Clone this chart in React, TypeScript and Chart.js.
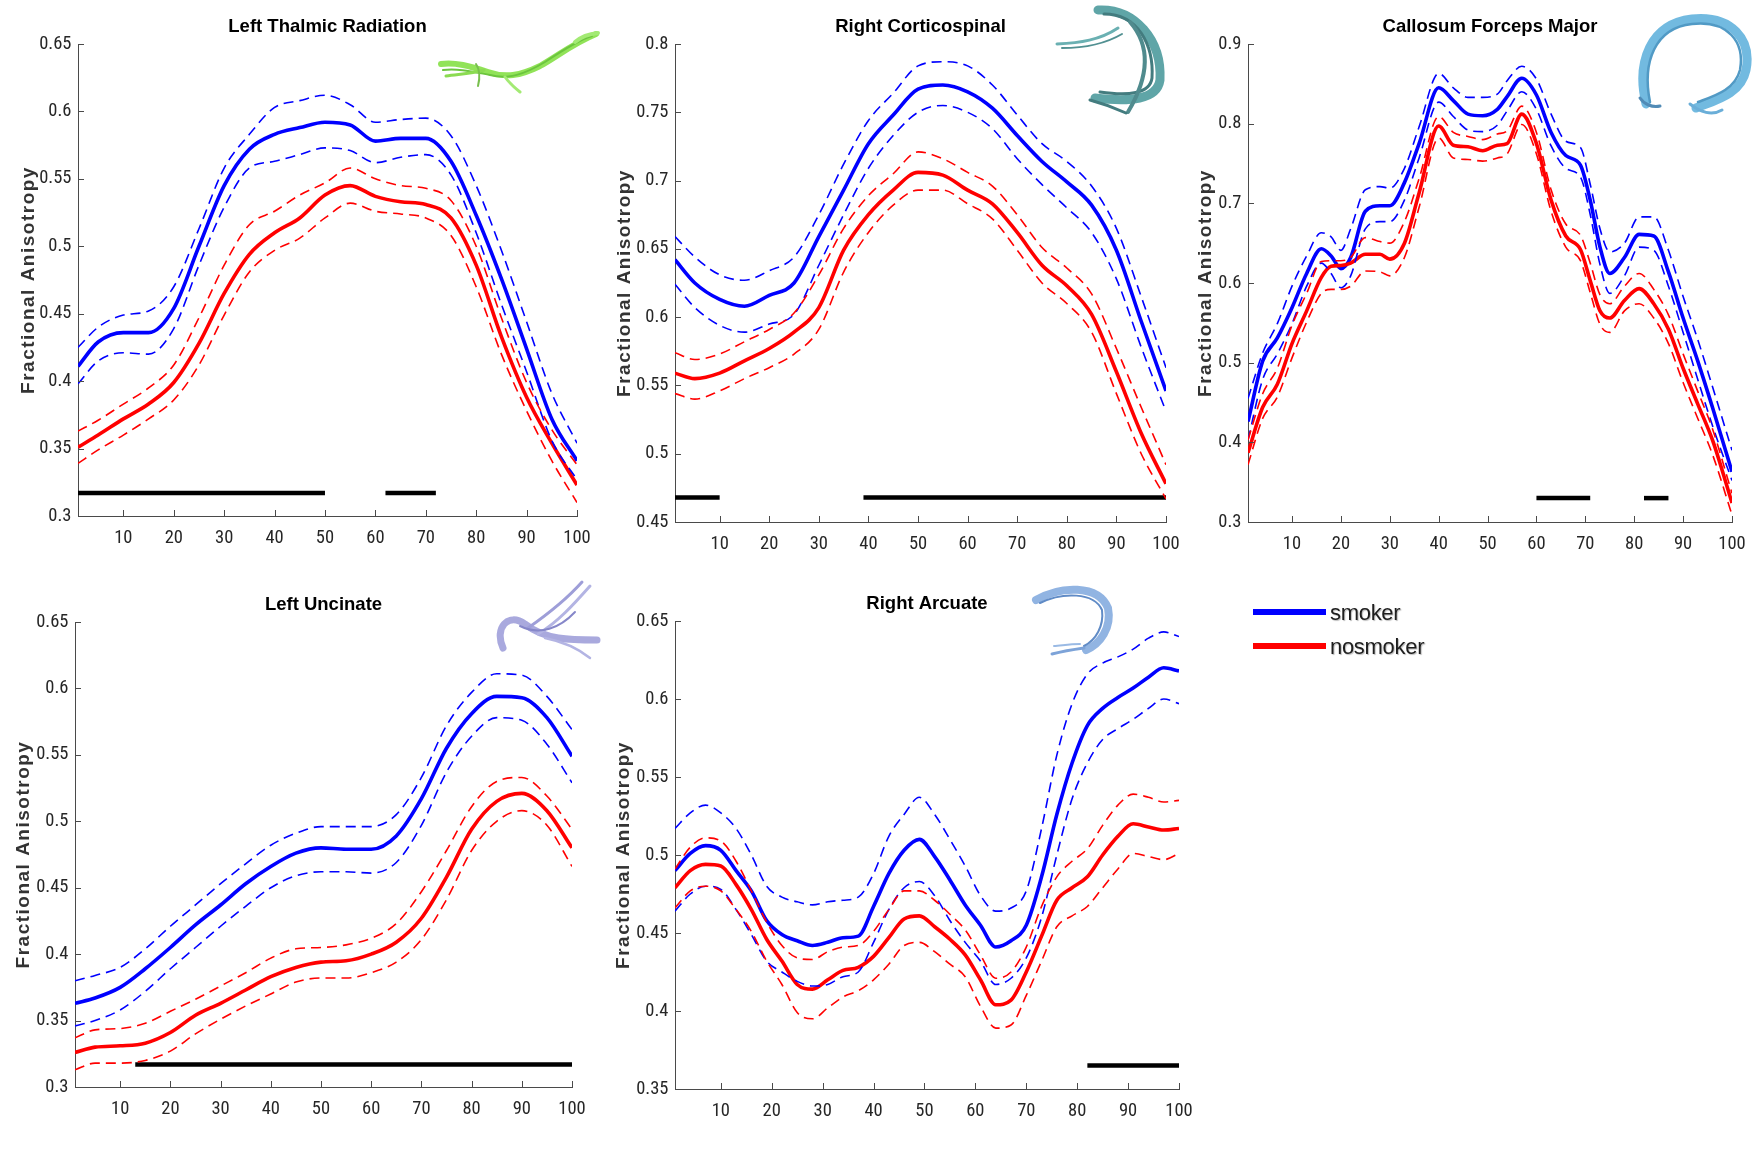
import React, { useEffect, useRef } from 'react';
import { Chart, registerables } from 'chart.js';

Chart.register(...registerables);

// ---------------- DATA ----------------
const xTicks = [10, 20, 30, 40, 50, 60, 70, 80, 90, 100];

// Left Thalmic Radiation
const ltrX = [1, 5, 10, 15, 20, 25, 30, 35, 40, 45, 50, 55, 60, 65, 70, 75, 80, 85, 90, 95, 100];
const ltrSmoker = [0.411, 0.429, 0.436, 0.436, 0.454, 0.500, 0.545, 0.572, 0.583, 0.588, 0.592, 0.590, 0.578, 0.580, 0.580, 0.563, 0.523, 0.476, 0.424, 0.372, 0.341];
const ltrSmokerHi = [0.425, 0.440, 0.449, 0.452, 0.470, 0.513, 0.558, 0.583, 0.603, 0.608, 0.612, 0.605, 0.592, 0.594, 0.595, 0.582, 0.545, 0.497, 0.444, 0.391, 0.354];
const ltrSmokerLo = [0.398, 0.415, 0.421, 0.420, 0.439, 0.486, 0.529, 0.558, 0.563, 0.568, 0.573, 0.571, 0.562, 0.566, 0.568, 0.553, 0.510, 0.457, 0.407, 0.356, 0.327];
const ltrNon = [0.351, 0.360, 0.372, 0.383, 0.399, 0.428, 0.465, 0.494, 0.510, 0.521, 0.538, 0.545, 0.537, 0.533, 0.531, 0.521, 0.486, 0.433, 0.388, 0.354, 0.323];
const ltrNonHi = [0.363, 0.371, 0.383, 0.395, 0.412, 0.447, 0.486, 0.516, 0.526, 0.538, 0.547, 0.558, 0.550, 0.545, 0.543, 0.534, 0.500, 0.447, 0.399, 0.364, 0.338];
const ltrNonLo = [0.339, 0.349, 0.360, 0.372, 0.386, 0.412, 0.449, 0.481, 0.497, 0.506, 0.521, 0.532, 0.526, 0.524, 0.521, 0.508, 0.470, 0.420, 0.378, 0.341, 0.310];
const ltrSig = [[1, 50], [62, 72]];
const ltrSigY = 0.317;
const ltrYTicks = [0.3, 0.35, 0.4, 0.45, 0.5, 0.55, 0.6, 0.65];

// Right Corticospinal
const rcsX = [1, 5, 10, 15, 20, 25, 30, 35, 40, 45, 50, 55, 60, 65, 70, 75, 80, 85, 90, 95, 100];
const rcsSmoker = [0.642, 0.625, 0.613, 0.608, 0.616, 0.625, 0.659, 0.693, 0.727, 0.748, 0.767, 0.770, 0.765, 0.753, 0.733, 0.714, 0.699, 0.682, 0.649, 0.597, 0.546];
const rcsSmokerHi = [0.659, 0.644, 0.631, 0.627, 0.634, 0.644, 0.675, 0.712, 0.744, 0.764, 0.784, 0.787, 0.784, 0.770, 0.748, 0.727, 0.714, 0.696, 0.665, 0.615, 0.563];
const rcsSmokerLo = [0.624, 0.607, 0.594, 0.589, 0.595, 0.602, 0.638, 0.675, 0.709, 0.733, 0.750, 0.755, 0.750, 0.738, 0.716, 0.697, 0.680, 0.662, 0.628, 0.578, 0.531];
const rcsNon = [0.559, 0.555, 0.559, 0.568, 0.577, 0.589, 0.607, 0.649, 0.675, 0.693, 0.706, 0.704, 0.693, 0.683, 0.662, 0.638, 0.623, 0.602, 0.560, 0.515, 0.478];
const rcsNonHi = [0.574, 0.569, 0.573, 0.582, 0.591, 0.603, 0.631, 0.665, 0.689, 0.705, 0.721, 0.716, 0.706, 0.696, 0.675, 0.651, 0.636, 0.617, 0.577, 0.534, 0.492];
const rcsNonLo = [0.544, 0.540, 0.546, 0.555, 0.563, 0.573, 0.591, 0.633, 0.662, 0.682, 0.693, 0.693, 0.683, 0.672, 0.649, 0.625, 0.610, 0.589, 0.544, 0.500, 0.467];
const rcsSig = [[1, 10], [39, 100]];
const rcsSigY = 0.468;
const rcsYTicks = [0.45, 0.5, 0.55, 0.6, 0.65, 0.7, 0.75, 0.8];

// Callosum Forceps Major
const cfmX = [1, 4, 7, 10, 13, 16, 18, 20, 22, 25, 28, 30, 33, 36, 40, 43, 46, 49, 52, 54, 57, 60, 63, 66, 69, 71, 73, 75, 78, 81, 84, 87, 90, 93, 96, 100];
const cfmSmoker = [0.426, 0.502, 0.531, 0.569, 0.612, 0.643, 0.634, 0.618, 0.632, 0.690, 0.697, 0.697, 0.726, 0.775, 0.845, 0.829, 0.812, 0.810, 0.818, 0.834, 0.857, 0.836, 0.789, 0.760, 0.748, 0.704, 0.645, 0.612, 0.632, 0.661, 0.659, 0.614, 0.556, 0.502, 0.444, 0.363];
const cfmSmokerHi = [0.455, 0.512, 0.549, 0.596, 0.634, 0.663, 0.658, 0.641, 0.668, 0.717, 0.721, 0.719, 0.744, 0.796, 0.863, 0.845, 0.833, 0.833, 0.837, 0.854, 0.872, 0.856, 0.812, 0.778, 0.770, 0.724, 0.668, 0.639, 0.650, 0.683, 0.683, 0.641, 0.583, 0.529, 0.470, 0.390];
const cfmSmokerLo = [0.403, 0.479, 0.511, 0.549, 0.596, 0.625, 0.612, 0.594, 0.609, 0.668, 0.677, 0.677, 0.704, 0.757, 0.827, 0.809, 0.792, 0.790, 0.798, 0.816, 0.840, 0.818, 0.772, 0.744, 0.733, 0.686, 0.623, 0.587, 0.609, 0.645, 0.641, 0.596, 0.538, 0.479, 0.421, 0.352];
const cfmNon = [0.387, 0.444, 0.473, 0.524, 0.565, 0.607, 0.621, 0.622, 0.625, 0.636, 0.636, 0.630, 0.650, 0.713, 0.797, 0.773, 0.771, 0.766, 0.773, 0.775, 0.812, 0.775, 0.704, 0.659, 0.642, 0.603, 0.565, 0.556, 0.578, 0.593, 0.574, 0.542, 0.493, 0.448, 0.403, 0.324];
const cfmNonHi = [0.403, 0.461, 0.493, 0.547, 0.587, 0.627, 0.628, 0.628, 0.632, 0.657, 0.652, 0.650, 0.677, 0.731, 0.809, 0.789, 0.784, 0.780, 0.787, 0.791, 0.822, 0.789, 0.717, 0.674, 0.660, 0.625, 0.585, 0.574, 0.596, 0.612, 0.592, 0.560, 0.511, 0.464, 0.417, 0.336];
const cfmNonLo = [0.372, 0.430, 0.457, 0.506, 0.551, 0.587, 0.592, 0.592, 0.596, 0.615, 0.614, 0.609, 0.632, 0.695, 0.782, 0.757, 0.755, 0.753, 0.757, 0.762, 0.799, 0.762, 0.690, 0.645, 0.628, 0.588, 0.548, 0.538, 0.565, 0.574, 0.556, 0.524, 0.475, 0.430, 0.385, 0.309];
const cfmSig = [[60, 71], [82, 87]];
const cfmSigY = 0.33;
const cfmYTicks = [0.3, 0.4, 0.5, 0.6, 0.7, 0.8, 0.9];

// Left Uncinate
const luX = [1, 5, 10, 15, 20, 25, 30, 35, 40, 45, 50, 55, 60, 65, 70, 75, 80, 85, 90, 95, 100];
const luSmoker = [0.363, 0.367, 0.375, 0.389, 0.405, 0.422, 0.437, 0.453, 0.466, 0.476, 0.480, 0.479, 0.479, 0.489, 0.517, 0.555, 0.581, 0.594, 0.593, 0.578, 0.549];
const luSmokerHi = [0.380, 0.384, 0.390, 0.404, 0.421, 0.437, 0.453, 0.468, 0.482, 0.491, 0.496, 0.496, 0.496, 0.505, 0.533, 0.572, 0.597, 0.611, 0.610, 0.594, 0.569];
const luSmokerLo = [0.346, 0.350, 0.358, 0.372, 0.389, 0.405, 0.421, 0.436, 0.450, 0.459, 0.462, 0.462, 0.461, 0.469, 0.497, 0.537, 0.564, 0.578, 0.576, 0.558, 0.529];
const luNon = [0.326, 0.330, 0.331, 0.333, 0.341, 0.354, 0.363, 0.373, 0.383, 0.390, 0.394, 0.395, 0.400, 0.409, 0.427, 0.458, 0.494, 0.515, 0.521, 0.508, 0.480];
const luNonHi = [0.337, 0.343, 0.344, 0.348, 0.357, 0.366, 0.376, 0.386, 0.397, 0.404, 0.405, 0.407, 0.412, 0.423, 0.447, 0.478, 0.511, 0.530, 0.533, 0.519, 0.494];
const luNonLo = [0.313, 0.318, 0.318, 0.320, 0.327, 0.340, 0.351, 0.361, 0.370, 0.379, 0.382, 0.382, 0.386, 0.394, 0.411, 0.441, 0.478, 0.500, 0.508, 0.497, 0.466];
const luSig = [[13, 100]];
const luSigY = 0.317;
const luYTicks = [0.3, 0.35, 0.4, 0.45, 0.5, 0.55, 0.6, 0.65];

// Right Arcuate
const raX = [1, 4, 7, 10, 13, 16, 19, 22, 25, 28, 31, 34, 37, 40, 43, 46, 49, 52, 55, 58, 61, 64, 67, 70, 73, 76, 79, 82, 85, 88, 91, 94, 97, 100];
const raSmoker = [0.490, 0.501, 0.506, 0.503, 0.490, 0.477, 0.458, 0.449, 0.445, 0.442, 0.444, 0.447, 0.448, 0.467, 0.488, 0.503, 0.510, 0.499, 0.484, 0.468, 0.455, 0.441, 0.445, 0.455, 0.486, 0.526, 0.559, 0.583, 0.594, 0.601, 0.607, 0.614, 0.620, 0.618];
const raSmokerHi = [0.517, 0.527, 0.532, 0.527, 0.517, 0.500, 0.480, 0.473, 0.470, 0.468, 0.470, 0.471, 0.473, 0.488, 0.512, 0.526, 0.537, 0.526, 0.510, 0.493, 0.474, 0.464, 0.466, 0.477, 0.517, 0.564, 0.597, 0.616, 0.623, 0.627, 0.632, 0.639, 0.643, 0.640];
const raSmokerLo = [0.464, 0.475, 0.480, 0.478, 0.465, 0.449, 0.432, 0.425, 0.419, 0.416, 0.417, 0.422, 0.425, 0.444, 0.465, 0.479, 0.483, 0.474, 0.458, 0.444, 0.432, 0.417, 0.421, 0.434, 0.460, 0.500, 0.536, 0.559, 0.574, 0.581, 0.587, 0.594, 0.600, 0.597];
const raNon = [0.479, 0.490, 0.494, 0.493, 0.481, 0.465, 0.446, 0.432, 0.417, 0.414, 0.420, 0.426, 0.428, 0.435, 0.447, 0.459, 0.461, 0.454, 0.446, 0.436, 0.420, 0.404, 0.407, 0.425, 0.448, 0.471, 0.479, 0.486, 0.500, 0.512, 0.520, 0.518, 0.516, 0.517];
const raNonHi = [0.491, 0.505, 0.511, 0.509, 0.496, 0.477, 0.457, 0.442, 0.434, 0.433, 0.438, 0.441, 0.442, 0.451, 0.465, 0.477, 0.477, 0.471, 0.462, 0.452, 0.436, 0.421, 0.425, 0.441, 0.467, 0.486, 0.496, 0.504, 0.519, 0.532, 0.539, 0.537, 0.534, 0.535];
const raNonLo = [0.466, 0.477, 0.480, 0.477, 0.465, 0.451, 0.432, 0.417, 0.399, 0.395, 0.402, 0.409, 0.413, 0.420, 0.430, 0.442, 0.444, 0.438, 0.430, 0.422, 0.403, 0.389, 0.391, 0.410, 0.432, 0.454, 0.461, 0.467, 0.479, 0.491, 0.501, 0.499, 0.497, 0.501];
const raSig = [[82, 100]];
const raSigY = 0.365;
const raYTicks = [0.35, 0.4, 0.45, 0.5, 0.55, 0.6, 0.65];

const legendLabels = ['smoker', 'nosmoker'];
const yAxisTitle = 'Fractional Anisotropy';

// ---------------- STYLE ----------------
const BLUE = '#0000ff';
const RED = '#ff0000';
const AXIS = '#4a4a4a';
const TICK_TEXT = '#262626';
const TICK_FONT = '"Liberation Sans Narrow", "Arial Narrow", "Roboto Condensed", sans-serif';
const BOLD_FONT = '"Liberation Sans", Arial, Helvetica, sans-serif';

const PAD_L = 80;
const PAD_T = 46;
const PAD_R = 22;
const PAD_B = 46;

type PanelData = {
  title: string;
  x: number[];
  smoker: number[]; smokerHi: number[]; smokerLo: number[];
  non: number[]; nonHi: number[]; nonLo: number[];
  sig: number[][]; sigY: number;
  yTicks: number[];
};

const panels: PanelData[] = [
  { title: 'Left Thalmic Radiation', x: ltrX, smoker: ltrSmoker, smokerHi: ltrSmokerHi, smokerLo: ltrSmokerLo, non: ltrNon, nonHi: ltrNonHi, nonLo: ltrNonLo, sig: ltrSig, sigY: ltrSigY, yTicks: ltrYTicks },
  { title: 'Right Corticospinal', x: rcsX, smoker: rcsSmoker, smokerHi: rcsSmokerHi, smokerLo: rcsSmokerLo, non: rcsNon, nonHi: rcsNonHi, nonLo: rcsNonLo, sig: rcsSig, sigY: rcsSigY, yTicks: rcsYTicks },
  { title: 'Callosum Forceps Major', x: cfmX, smoker: cfmSmoker, smokerHi: cfmSmokerHi, smokerLo: cfmSmokerLo, non: cfmNon, nonHi: cfmNonHi, nonLo: cfmNonLo, sig: cfmSig, sigY: cfmSigY, yTicks: cfmYTicks },
  { title: 'Left Uncinate', x: luX, smoker: luSmoker, smokerHi: luSmokerHi, smokerLo: luSmokerLo, non: luNon, nonHi: luNonHi, nonLo: luNonLo, sig: luSig, sigY: luSigY, yTicks: luYTicks },
  { title: 'Right Arcuate', x: raX, smoker: raSmoker, smokerHi: raSmokerHi, smokerLo: raSmokerLo, non: raNon, nonHi: raNonHi, nonLo: raNonLo, sig: raSig, sigY: raSigY, yTicks: raYTicks },
];

// plot-area boxes on the page (left, right, top, bottom) and label offset
const boxes = [
  { L: 78.3, R: 577, T: 43.6, B: 515.4, labelGap: 49.5 },
  { L: 674.6, R: 1165.5, T: 43.6, B: 521.4, labelGap: 50.5 },
  { L: 1248, R: 1732, T: 43.6, B: 521.4, labelGap: 42 },
  { L: 74.6, R: 571.4, T: 621.7, B: 1086.2, labelGap: 51 },
  { L: 674.9, R: 1179.3, T: 620.6, B: 1088.8, labelGap: 51 },
];

const fmt = (v: number) => String(parseFloat(v.toFixed(2)));

const decorPlugin = {
  id: 'decor',
  afterDraw(chart: any, _args: any, opts: any) {
    const { ctx, chartArea: ca, scales } = chart;
    const xs = scales.x;
    const ys = scales.y;
    ctx.save();
    ctx.strokeStyle = AXIS;
    ctx.lineWidth = 1;
    xs.ticks.forEach((t: any) => {
      const px = Math.round(xs.getPixelForValue(t.value)) + 0.5;
      ctx.beginPath();
      ctx.moveTo(px, ca.bottom);
      ctx.lineTo(px, ca.bottom - 6);
      ctx.stroke();
    });
    ys.ticks.forEach((t: any) => {
      const py = Math.round(ys.getPixelForValue(t.value)) + 0.5;
      ctx.beginPath();
      ctx.moveTo(ca.left, py);
      ctx.lineTo(ca.left + 6, py);
      ctx.stroke();
    });
    ctx.fillStyle = '#000';
    ctx.font = `bold 18.5px ${BOLD_FONT}`;
    ctx.textAlign = 'center';
    ctx.textBaseline = 'middle';
    ctx.fillText(opts.title, (ca.left + ca.right) / 2, ca.top - 17);
    ctx.translate(ca.left - opts.labelGap, (ca.top + ca.bottom) / 2);
    ctx.rotate(-Math.PI / 2);
    ctx.fillStyle = '#333';
    ctx.font = `bold 19px ${BOLD_FONT}`;
    try { (ctx as any).letterSpacing = '1.5px'; } catch (e) { /* ignore */ }
    ctx.fillText(yAxisTitle, 0, 0);
    ctx.restore();
  },
};

function lineSet(xs: number[], ys: number[], color: string, dashed: boolean) {
  return {
    data: xs.map((x, i) => ({ x, y: ys[i] })),
    borderColor: color,
    borderWidth: dashed ? 1.6 : 3.6,
    borderDash: dashed ? [10, 6] : [],
    pointRadius: 0,
    fill: false,
    cubicInterpolationMode: 'monotone' as const,
  };
}

function Panel({ p, box }: { p: PanelData; box: typeof boxes[number] }) {
  const ref = useRef<HTMLCanvasElement>(null);
  const w = Math.round(box.R - box.L + PAD_L + PAD_R);
  const h = Math.round(box.B - box.T + PAD_T + PAD_B);
  useEffect(() => {
    if (!ref.current) return;
    const datasets: any[] = [
      lineSet(p.x, p.nonHi, RED, true),
      lineSet(p.x, p.nonLo, RED, true),
      lineSet(p.x, p.smokerHi, BLUE, true),
      lineSet(p.x, p.smokerLo, BLUE, true),
      lineSet(p.x, p.non, RED, false),
      lineSet(p.x, p.smoker, BLUE, false),
      ...p.sig.map(([a, b]) => ({
        data: [{ x: a, y: p.sigY }, { x: b, y: p.sigY }],
        borderColor: '#000',
        borderWidth: 4.5,
        borderCapStyle: 'butt',
        pointRadius: 0,
        fill: false,
      })),
    ];
    const yMin = p.yTicks[0];
    const yMax = p.yTicks[p.yTicks.length - 1];
    const chart = new Chart(ref.current, {
      type: 'line',
      data: { datasets },
      options: {
        responsive: false,
        animation: false,
        events: [],
        layout: { padding: { left: 0, top: PAD_T, right: PAD_R, bottom: 0 } },
        plugins: {
          legend: { display: false },
          tooltip: { enabled: false },
          title: { display: false },
          decor: { title: p.title, labelGap: box.labelGap },
        } as any,
        scales: {
          x: {
            type: 'linear',
            min: 1,
            max: 100,
            afterBuildTicks: (s: any) => { s.ticks = xTicks.map((v) => ({ value: v })); },
            afterFit: (s: any) => { s.height = PAD_B; s.paddingLeft = 0; s.paddingRight = 0; },
            grid: { display: false, drawTicks: false },
            border: { display: true, color: AXIS, width: 1 },
            ticks: {
              color: TICK_TEXT,
              font: { family: TICK_FONT, size: 18.5 },
              padding: 11,
              maxRotation: 0,
              autoSkip: false,
              callback: (v: any) => fmt(Number(v)),
            },
          },
          y: {
            type: 'linear',
            min: yMin,
            max: yMax,
            afterBuildTicks: (s: any) => { s.ticks = p.yTicks.map((v) => ({ value: v })); },
            afterFit: (s: any) => { s.width = PAD_L; s.paddingTop = 0; s.paddingBottom = 0; },
            grid: { display: false, drawTicks: false },
            border: { display: true, color: AXIS, width: 1 },
            ticks: {
              color: TICK_TEXT,
              font: { family: TICK_FONT, size: 18.5 },
              padding: 6.5,
              autoSkip: false,
              callback: (v: any) => fmt(Number(v)),
            },
          },
        },
      },
      plugins: [decorPlugin],
    });
    return () => chart.destroy();
  }, []);
  return (
    <canvas
      ref={ref}
      width={w}
      height={h}
      style={{ position: 'absolute', left: box.L - PAD_L, top: box.T - PAD_T, width: w, height: h }}
    />
  );
}

function Tracts() {
  return (
    <svg width={1755} height={1149} style={{ position: 'absolute', left: 0, top: 0, pointerEvents: 'none' }}>
      {/* green thalamic radiation */}
      <g fill="none" strokeLinecap="round" opacity={0.9}>
        <path d="M441,64 C455,62 470,66 488,72 C505,78 520,76 540,66 C558,56 572,44 596,34" stroke="#86e046" strokeWidth={6} />
        <path d="M443,70 C458,68 474,72 490,75 C508,80 525,74 545,62 C560,52 578,40 592,36" stroke="#5cbf2a" strokeWidth={2} />
        <path d="M446,76 C458,74 470,74 484,70" stroke="#7fd840" strokeWidth={3} />
        <path d="M476,64 C480,70 480,78 478,86" stroke="#6ab83a" strokeWidth={2} />
        <path d="M505,77 C510,84 515,88 520,92" stroke="#9ae865" strokeWidth={3} />
        <path d="M575,42 C582,36 588,34 598,33" stroke="#9ae865" strokeWidth={4} />
      </g>
      {/* teal corticospinal */}
      <g fill="none" strokeLinecap="round" opacity={0.9}>
        <path d="M1098,10 C1135,8 1162,40 1160,80 C1157,100 1130,102 1095,98" stroke="#4e9c9e" strokeWidth={9} />
        <path d="M1104,14 C1138,14 1154,45 1152,78 C1150,94 1128,96 1100,92" stroke="#2f6e72" strokeWidth={3} />
        <path d="M1057,44 C1080,43 1100,40 1118,28" stroke="#5aa8aa" strokeWidth={3} />
        <path d="M1062,48 C1085,48 1105,44 1122,34" stroke="#3f8486" strokeWidth={2} />
        <path d="M1130,22 C1150,45 1150,75 1128,112" stroke="#3d7f82" strokeWidth={4} />
        <path d="M1090,100 C1105,104 1115,108 1126,113" stroke="#2f6e72" strokeWidth={3} />
      </g>
      {/* blue forceps major */}
      <g fill="none" strokeLinecap="round" opacity={0.9}>
        <path d="M1646,104 C1636,62 1650,24 1692,19 C1732,15 1752,40 1746,70 C1741,94 1716,100 1696,108" stroke="#63b3dd" strokeWidth={9} />
        <path d="M1650,102 C1642,62 1655,28 1692,24 C1728,20 1745,42 1740,70 C1735,90 1714,96 1698,102" stroke="#3f8fbf" strokeWidth={2.5} />
        <path d="M1640,98 C1644,104 1652,108 1660,106" stroke="#3f7fae" strokeWidth={3} />
        <path d="M1690,104 C1700,112 1712,116 1722,110" stroke="#5aa6d4" strokeWidth={3} />
      </g>
      {/* purple uncinate */}
      <g fill="none" strokeLinecap="round" opacity={0.85}>
        <path d="M503,648 C494,628 508,612 525,624 C545,640 570,640 597,640" stroke="#9a9ad8" strokeWidth={7} />
        <path d="M528,628 C548,614 566,600 582,582" stroke="#8d8ed2" strokeWidth={3} />
        <path d="M538,634 C558,622 574,604 590,586" stroke="#a6a7de" strokeWidth={3} />
        <path d="M545,638 C565,642 580,650 590,658" stroke="#a6a7de" strokeWidth={2.5} />
        <path d="M520,626 C540,636 560,628 575,612" stroke="#7172c0" strokeWidth={2} />
      </g>
      {/* light-blue arcuate */}
      <g fill="none" strokeLinecap="round" opacity={0.9}>
        <path d="M1036,600 C1060,586 1098,584 1108,608 C1112,628 1100,644 1086,650" stroke="#86acdf" strokeWidth={8} />
        <path d="M1040,603 C1062,592 1094,592 1102,610 C1104,626 1096,640 1084,646" stroke="#4f7fc0" strokeWidth={2} />
        <path d="M1084,648 C1070,650 1060,652 1052,654" stroke="#6f9ad4" strokeWidth={3} />
        <path d="M1080,644 C1068,644 1060,646 1054,646" stroke="#8fb3e2" strokeWidth={2} />
      </g>
    </svg>
  );
}

function Legend() {
  const items = [
    { label: legendLabels[0], color: BLUE, y: 611.7 },
    { label: legendLabels[1], color: RED, y: 645.7 },
  ];
  return (
    <>
      {items.map((it) => (
        <React.Fragment key={it.label}>
          <div style={{ position: 'absolute', left: 1253, top: it.y - 3.2, width: 73, height: 6.4, background: it.color }} />
          <div
            style={{
              position: 'absolute',
              left: 1330,
              top: it.y - 11.5,
              fontFamily: BOLD_FONT,
              fontSize: 22,
              lineHeight: '26px',
              color: '#1e1e1e',
              letterSpacing: '-0.3px',
              textShadow: '1px 1px 1px #bbb',
              whiteSpace: 'nowrap',
            }}
          >
            {it.label}
          </div>
        </React.Fragment>
      ))}
    </>
  );
}

export default function App() {
  return (
    <div style={{ position: 'absolute', left: 0, top: 0, width: 1755, height: 1149, background: '#fff', overflow: 'hidden' }}>
      {panels.map((p, i) => (
        <Panel key={p.title} p={p} box={boxes[i]} />
      ))}
      <Tracts />
      <Legend />
    </div>
  );
}
